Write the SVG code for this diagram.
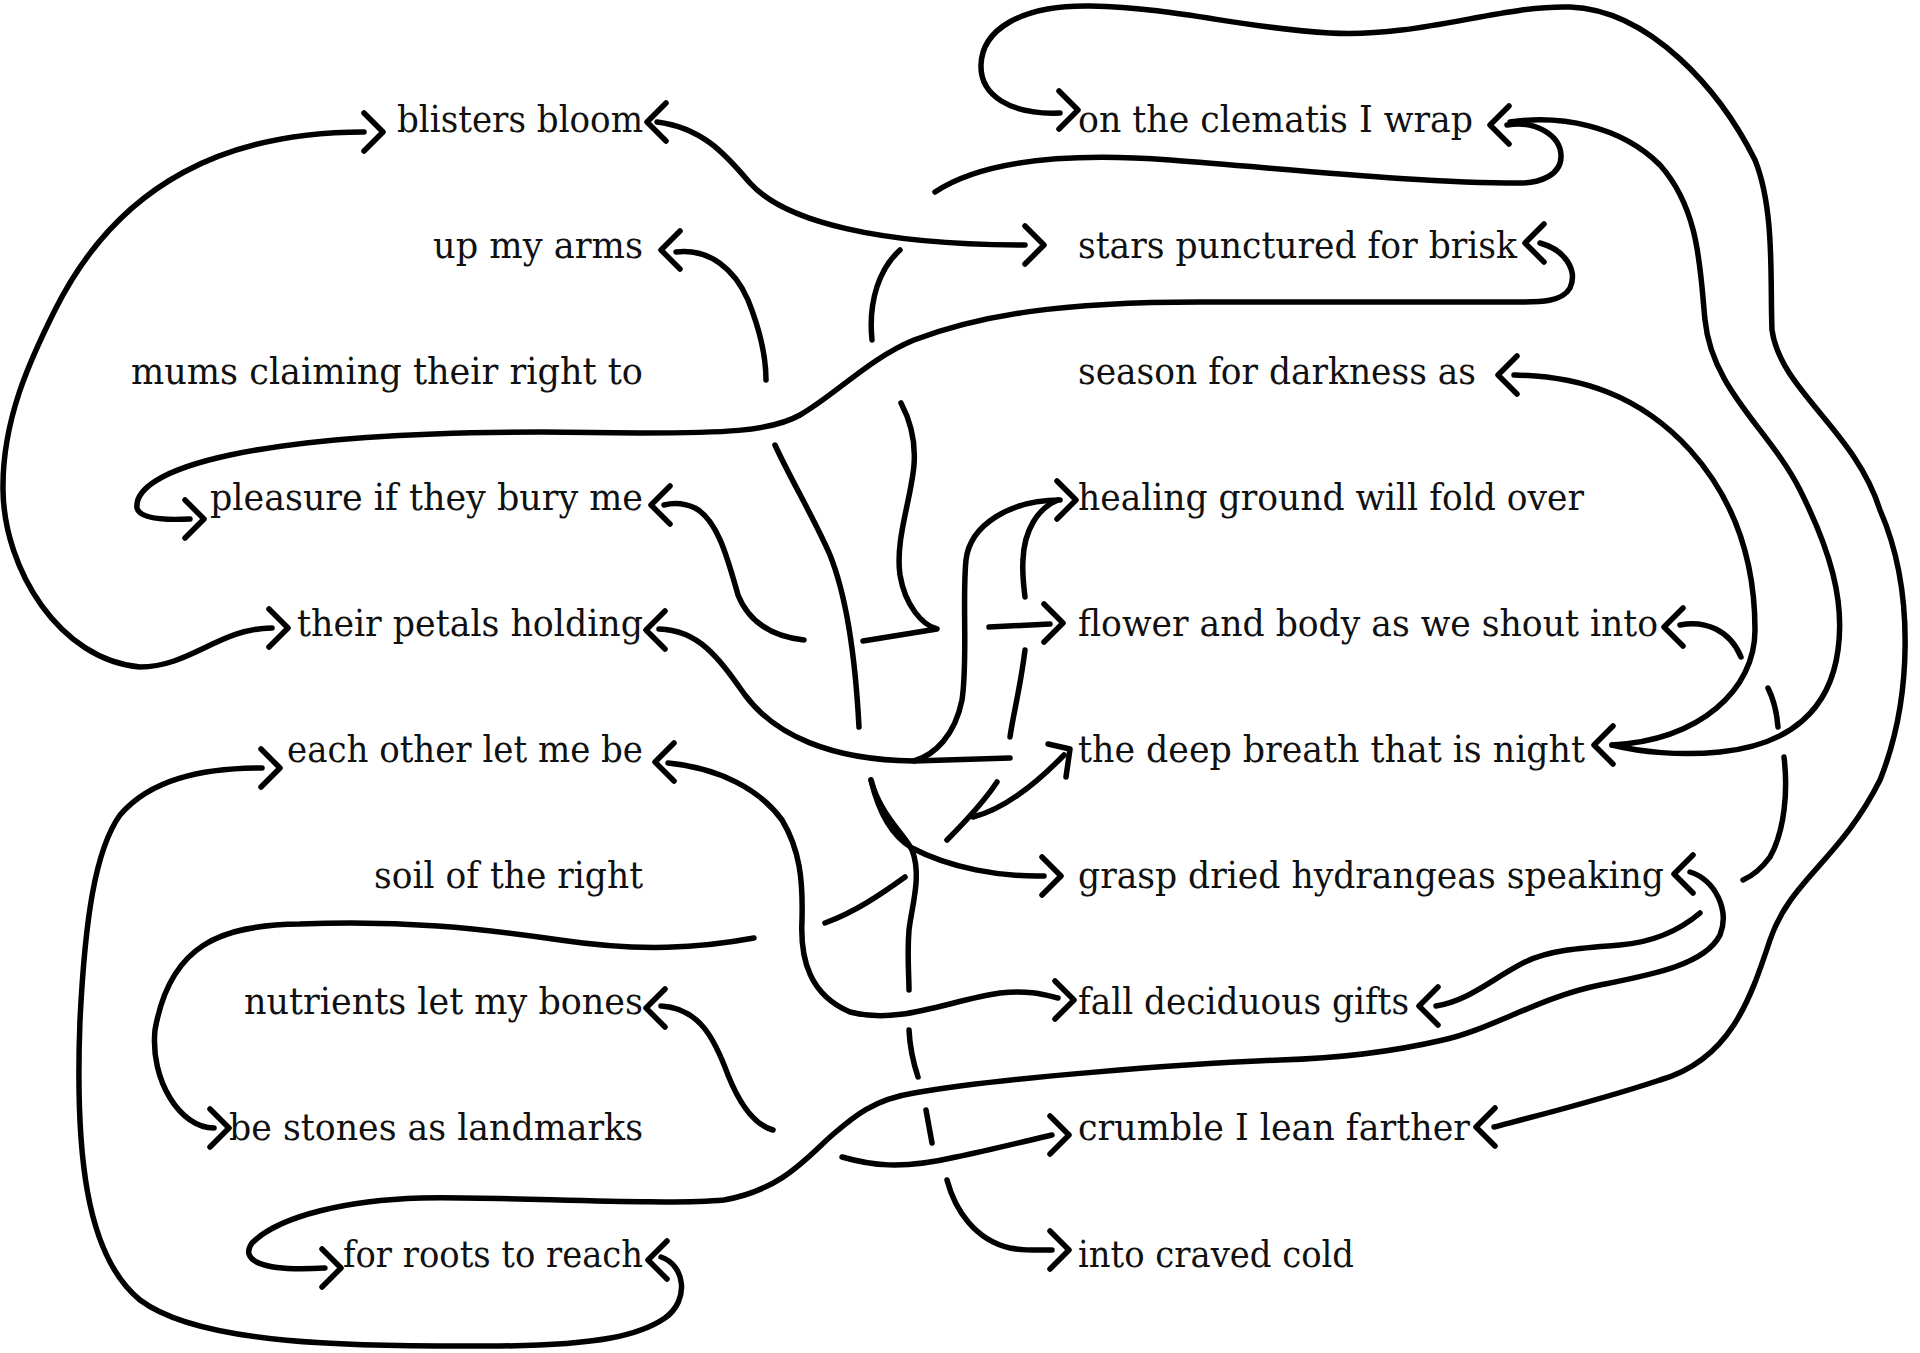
<svg xmlns="http://www.w3.org/2000/svg" width="1920" height="1353" viewBox="0 0 1920 1353">
<style>
.t{font-family:"DejaVu Serif","Liberation Serif",serif;font-size:38px;fill:#111}
.l{text-anchor:end}
.c{fill:none;stroke:#000;stroke-width:5.5;stroke-linecap:round;stroke-linejoin:round}
</style>
<defs>
<path id="chL" class="c" d="M19 -19 L0 0 L19 19"/>
<path id="chR" class="c" d="M-19 -19 L0 0 L-19 19"/>
</defs>
<rect width="1920" height="1353" fill="#fff"/>
<g id="nodes">
<g id="n-blisters"><text class="t l" x="643" y="132" textLength="246" lengthAdjust="spacingAndGlyphs">blisters bloom</text></g>
<g id="n-uparms"><text class="t l" x="643" y="258" textLength="210" lengthAdjust="spacingAndGlyphs">up my arms</text></g>
<g id="n-mums"><text class="t l" x="643" y="384" textLength="512" lengthAdjust="spacingAndGlyphs">mums claiming their right to</text></g>
<g id="n-pleasure"><text class="t l" x="643" y="510" textLength="433" lengthAdjust="spacingAndGlyphs">pleasure if they bury me</text></g>
<g id="n-petals"><text class="t l" x="643" y="636" textLength="346" lengthAdjust="spacingAndGlyphs">their petals holding</text></g>
<g id="n-eachother"><text class="t l" x="643" y="762" textLength="356" lengthAdjust="spacingAndGlyphs">each other let me be</text></g>
<g id="n-soil"><text class="t l" x="643" y="888" textLength="269" lengthAdjust="spacingAndGlyphs">soil of the right</text></g>
<g id="n-nutrients"><text class="t l" x="643" y="1014" textLength="399" lengthAdjust="spacingAndGlyphs">nutrients let my bones</text></g>
<g id="n-stones"><text class="t l" x="643" y="1140" textLength="414" lengthAdjust="spacingAndGlyphs">be stones as landmarks</text></g>
<g id="n-roots"><text class="t l" x="643" y="1267" textLength="300" lengthAdjust="spacingAndGlyphs">for roots to reach</text></g>
<g id="n-clematis"><text class="t" x="1078" y="132" textLength="395" lengthAdjust="spacingAndGlyphs">on the clematis I wrap</text></g>
<g id="n-stars"><text class="t" x="1078" y="258" textLength="439" lengthAdjust="spacingAndGlyphs">stars punctured for brisk</text></g>
<g id="n-season"><text class="t" x="1078" y="384" textLength="398" lengthAdjust="spacingAndGlyphs">season for darkness as</text></g>
<g id="n-healing"><text class="t" x="1078" y="510" textLength="506" lengthAdjust="spacingAndGlyphs">healing ground will fold over</text></g>
<g id="n-flower"><text class="t" x="1078" y="636" textLength="580" lengthAdjust="spacingAndGlyphs">flower and body as we shout into</text></g>
<g id="n-breath"><text class="t" x="1078" y="762" textLength="507" lengthAdjust="spacingAndGlyphs">the deep breath that is night</text></g>
<g id="n-grasp"><text class="t" x="1078" y="888" textLength="586" lengthAdjust="spacingAndGlyphs">grasp dried hydrangeas speaking</text></g>
<g id="n-fall"><text class="t" x="1078" y="1014" textLength="331" lengthAdjust="spacingAndGlyphs">fall deciduous gifts</text></g>
<g id="n-crumble"><text class="t" x="1078" y="1140" textLength="392" lengthAdjust="spacingAndGlyphs">crumble I lean farther</text></g>
<g id="n-into"><text class="t" x="1078" y="1267" textLength="276" lengthAdjust="spacingAndGlyphs">into craved cold</text></g>
</g>
<g id="connectors">
<!-- blisters <-> their petals -->
<path class="c" d="M364 132 C230 132,120 180,55 310 C30 360,2 420,3 490 C4 570,60 660,140 667 C190 667,220 628,272 628"/>
<use href="#chR" x="383" y="132"/>
<use href="#chR" x="288" y="628"/>
<!-- blisters <-> stars -->
<path class="c" d="M657 122 C705 128,728 158,750 183 C785 222,880 245,1025 245"/>
<use href="#chL" x="647" y="122"/>
<use href="#chR" x="1044" y="245"/>
<!-- up my arms down to grasp / into -->
<path class="c" d="M676 252 C710 248,735 270,748 300 C760 330,766 355,766 380"/>
<path class="c" d="M775 445 C790 478,815 520,830 555 C848 600,856 670,859 727"/>
<path class="c" d="M871 780 C878 810,890 835,912 848 C950 868,1000 877,1044 876"/>
<path class="c" d="M871 780 C880 815,905 835,912 850 C922 875,912 905,909 930 C907 955,909 975,909 990"/>
<path class="c" d="M909 1030 C910 1050,914 1065,918 1077"/>
<path class="c" d="M926 1110 L932 1143"/>
<path class="c" d="M947 1180 C955 1210,975 1240,1010 1248 C1025 1251,1040 1250,1052 1250"/>
<use href="#chL" x="661" y="250"/>
<use href="#chR" x="1061" y="876"/>
<use href="#chR" x="1069" y="1250"/>
<!-- clematis loop to pleasure / flower -->
<path class="c" d="M1507 125 C1535 120,1560 135,1561 155 C1562 175,1540 183,1520 183 C1420 183,1300 170,1170 160 C1060 152,980 162,935 192"/>
<path class="c" d="M900 250 C880 268,868 300,872 340"/>
<path class="c" d="M901 403 C910 420,916 440,914 465 C911 500,895 540,900 575 C905 605,922 625,937 629 L863 641"/>
<path class="c" d="M804 640 C770 636,748 620,738 595 C728 560,718 520,695 508 C682 502,672 503,664 505"/>
<path class="c" d="M989 627 L1050 624"/>
<use href="#chL" x="1490" y="125"/>
<use href="#chL" x="651" y="505"/>
<use href="#chR" x="1063" y="623"/>
<!-- their petals to healing -->
<path class="c" d="M659 629 C700 630,720 660,745 695 C775 735,830 760,914 761 L1010 758"/>
<path class="c" d="M914 761 C935 755,955 735,962 700 C968 660,962 600,966 560 C970 525,1010 500,1060 500"/>
<use href="#chL" x="646" y="630"/>
<use href="#chR" x="1076" y="500"/>
<!-- healing to be stones -->
<path class="c" d="M1058 500 C1038 508,1024 530,1023 560 C1022 575,1024 588,1025 597"/>
<path class="c" d="M1025 650 C1020 690,1013 715,1010 737"/>
<path class="c" d="M997 782 C985 800,965 822,947 840"/>
<path class="c" d="M905 877 C880 895,855 912,825 923"/>
<path class="c" d="M754 938 C700 948,640 952,560 940 C480 928,400 920,300 924 C220 925,170 945,155 1030 C150 1080,180 1128,214 1128"/>
<use href="#chR" x="229" y="1128"/>
<!-- deep breath branch -->
<path class="c" d="M973 817 C1000 810,1030 790,1064 755"/>
<path class="c" d="M1048 744 L1070 749 L1066 777"/>
<!-- each other to fall -->
<path class="c" d="M668 763 C720 768,760 790,782 820 C800 850,803 880,802 920 C800 960,810 995,850 1012 C900 1025,950 1000,1000 993 C1030 990,1045 995,1058 998"/>
<use href="#chL" x="655" y="762"/>
<use href="#chR" x="1074" y="1000"/>
<!-- nutrients to crumble -->
<path class="c" d="M661 1006 C700 1008,715 1040,728 1075 C740 1105,755 1125,773 1130"/>
<path class="c" d="M842 1157 C870 1165,900 1170,956 1157 C990 1150,1030 1140,1052 1135"/>
<use href="#chL" x="646" y="1008"/>
<use href="#chR" x="1069" y="1135"/>
<!-- grasp to for roots -->
<path class="c" d="M1690 872 C1715 880,1730 910,1720 935 C1705 965,1650 975,1600 985 C1540 997,1490 1030,1443 1040 C1400 1050,1350 1058,1280 1060 C1180 1064,1000 1078,914 1093 C870 1100,850 1120,830 1137 C805 1160,780 1190,724 1200 C660 1206,500 1196,421 1198 C350 1200,280 1215,252 1243 C240 1260,260 1272,325 1268"/>
<use href="#chL" x="1674" y="874"/>
<use href="#chR" x="341" y="1268"/>
<!-- for roots to each other -->
<path class="c" d="M661 1257 C685 1265,690 1300,665 1318 C640 1335,600 1345,500 1346 C350 1347,200 1345,140 1300 C85 1255,75 1150,80 1020 C85 920,95 850,120 815 C150 780,200 768,262 768"/>
<use href="#chL" x="648" y="1260"/>
<use href="#chR" x="280" y="768"/>
<!-- stars to pleasure -->
<path class="c" d="M1540 243 C1565 250,1578 270,1570 288 C1562 302,1540 302,1520 302 L1200 302 C1060 302,980 315,914 340 C870 358,835 395,800 415 C770 432,720 433,640 433 L540 432 C400 432,300 440,230 455 C160 470,135 490,137 508 C140 520,170 520,190 519"/>
<use href="#chL" x="1525" y="243"/>
<use href="#chR" x="204" y="519"/>
<!-- season to deep breath -->
<path class="c" d="M1514 375 C1580 376,1640 395,1690 450 C1735 500,1755 560,1755 630 C1755 690,1700 740,1612 745"/>
<use href="#chL" x="1498" y="375"/>
<use href="#chL" x="1594" y="745"/>
<!-- clematis to deep breath -->
<path class="c" d="M1510 122 C1560 115,1620 125,1660 165 C1700 210,1700 270,1705 320 C1712 390,1770 430,1800 490 C1830 550,1845 600,1838 650 C1830 710,1790 745,1720 752 C1680 756,1640 752,1612 745"/>
<!-- clematis outer to crumble -->
<path class="c" d="M1060 113 C1010 115,980 95,981 65 C982 30,1020 5,1090 6 C1180 8,1240 28,1330 33 C1420 38,1500 5,1570 7 C1650 10,1720 90,1755 160 C1775 210,1770 280,1772 330 C1780 390,1855 430,1880 510 C1915 590,1912 700,1880 780 C1840 860,1790 880,1770 940 C1750 1000,1730 1060,1660 1080 C1600 1100,1540 1115,1494 1127"/>
<use href="#chR" x="1078" y="110"/>
<use href="#chL" x="1476" y="1127"/>
<!-- flower to fall -->
<path class="c" d="M1680 625 C1705 620,1730 630,1741 657"/>
<path class="c" d="M1768 688 C1774 700,1777 715,1778 727"/>
<path class="c" d="M1784 757 C1788 790,1785 830,1770 857 C1762 868,1752 876,1743 880"/>
<path class="c" d="M1700 913 C1680 930,1655 942,1620 945 C1580 948,1550 950,1525 962 C1490 980,1470 1000,1436 1006"/>
<use href="#chL" x="1664" y="627"/>
<use href="#chL" x="1419" y="1006"/>
</g>
</svg>
